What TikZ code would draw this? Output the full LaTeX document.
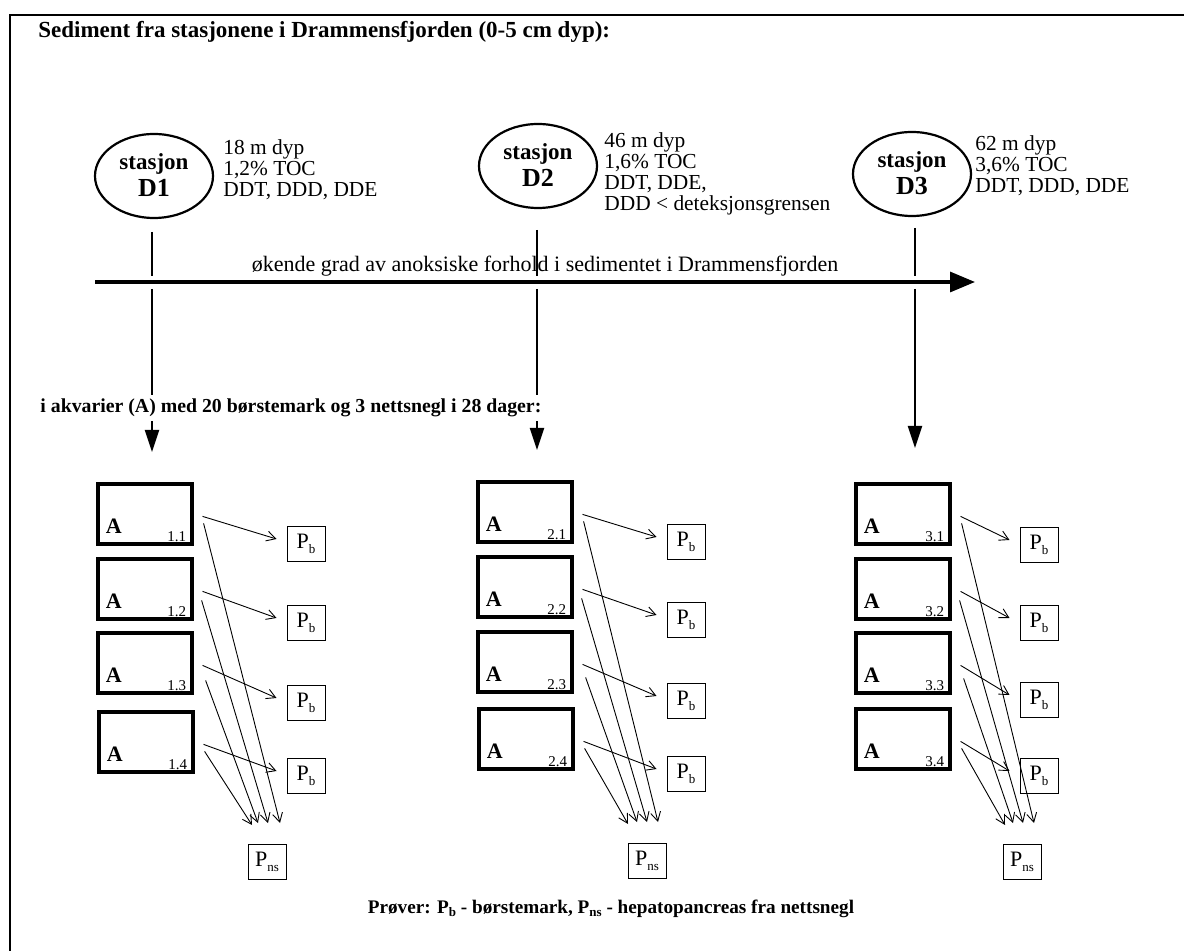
\documentclass[tikz,border=0pt]{standalone}
\usepackage{fontspec}
\setmainfont{Liberation Serif}
\usetikzlibrary{arrows.meta,calc,shapes.geometric}
\newcommand\lowsub[1]{\raisebox{-0.45ex}{\fontsize{6.5}{7}\selectfont #1}}
\newcommand\mkaq[3]{%
  \node[aq] (#1) at (#2) {};
  \node[aqA] (#1A) at ($(#1.south west)+(9,-12)$) {A};
  \node[aqN] (#1n) at ($(#1.south east)+(-7,-4)$) {#3};
}
\begin{document}
\begin{tikzpicture}[x=0.5pt,y=-0.5pt,
  stn/.style={ellipse,draw,line width=1.1pt,minimum width=59pt,minimum height=42pt,inner sep=0pt},
  stntxt/.style={anchor=base,inner sep=0pt,font=\fontsize{11.5}{13}\bfseries\selectfont},
  stnid/.style={anchor=base,inner sep=0pt,font=\fontsize{13}{15}\bfseries\selectfont},
  info/.style={anchor=base west,inner sep=0pt,font=\fontsize{10.7}{12}\selectfont},
  head/.style={anchor=base west,inner sep=0pt,font=\fontsize{11.5}{13}\bfseries\selectfont},
  aq/.style={draw,line width=1.6pt,minimum width=47pt,minimum height=30pt,inner sep=0pt},
  aqA/.style={anchor=base west,inner sep=0pt,font=\fontsize{11}{12}\bfseries\selectfont},
  aqN/.style={anchor=base east,inner sep=0pt,font=\fontsize{7.5}{9}\selectfont},
  pb/.style={draw,line width=0.5pt,minimum width=19pt,minimum height=17.5pt,inner sep=0pt,font=\fontsize{11}{12}\selectfont},
  feed/.style={line width=1pt},
  feedarrow/.style={line width=1pt,-{Triangle[length=11pt,width=7pt]}},
  samp/.style={line width=0.45pt,-{Straight Barb[length=4.5pt,width=5pt]}},
]
\useasboundingbox (0,0) rectangle (1184,951);
\draw[line width=1.2pt] (10,951) -- (10,15) -- (1184,15);

\node[head] (title) at (38,38) {Sediment fra stasjonene i Drammensfjorden (0-5 cm dyp):};

% stations
\node[stn] (D1) at (154,176) {};
\node[stntxt] (D1s) at (154,170) {stasjon};
\node[stnid] (D1n) at (154,197) {D1};
\node[info] (D1i1) at (223,155) {18 m dyp};
\node[info] (D1i2) at (223,176) {1,2\% TOC};
\node[info] (D1i3) at (223,197) {DDT, DDD, DDE};

\node[stn] (D2) at (538,166) {};
\node[stntxt] (D2s) at (538,160) {stasjon};
\node[stnid] (D2n) at (538,187) {D2};
\node[info] (D2i1) at (604,148) {46 m dyp};
\node[info] (D2i2) at (604,169) {1,6\% TOC};
\node[info] (D2i3) at (604,190) {DDT, DDE,};
\node[info] (D2i4) at (604,211) {DDD < deteksjonsgrensen};

\node[stn] (D3) at (912,174) {};
\node[stntxt] (D3s) at (912,168) {stasjon};
\node[stnid] (D3n) at (912,195) {D3};
\node[info] (D3i1) at (975,151) {62 m dyp};
\node[info] (D3i2) at (975,172) {3,6\% TOC};
\node[info] (D3i3) at (975,193) {DDT, DDD, DDE};

% gradient arrow
\coordinate (hs) at (95,282);
\coordinate (he) at (975,282);
\draw[line width=1.6pt,-{Triangle[length=12.5pt,width=10pt]}] (hs) -- (he);
\node[info,anchor=base,font=\fontsize{11}{12}\selectfont] (grad) at (545,272) {økende grad av anoksiske forhold i sedimentet i Drammensfjorden};

% vertical feeds
\coordinate (v1a) at (152,232); \coordinate (v1b) at (152,276);
\coordinate (v1c) at (152,289); \coordinate (v1d) at (152,452);
\coordinate (v2a) at (537,230); \coordinate (v2b) at (537,276);
\coordinate (v2c) at (537,289); \coordinate (v2d) at (537,450);
\coordinate (v3a) at (915,228); \coordinate (v3b) at (915,276);
\coordinate (v3c) at (915,289); \coordinate (v3d) at (915,448);
\draw[feed] (v1a) -- (v1b);
\draw[feedarrow] (v1c) -- (v1d);
\draw[feed] (v2a) -- (v2b);
\draw[feedarrow] (v2c) -- (v2d);
\draw[feed] (v3a) -- (v3b);
\draw[feedarrow] (v3c) -- (v3d);

\node[head,font=\fontsize{9.9}{12}\bfseries\selectfont,fill=white,inner sep=2pt] (aqtitle) at (36,413) {i akvarier (A) med 20 børstemark og 3 nettsnegl i 28 dager:};

% aquaria
\mkaq{b11}{145,514}{1.1}
\mkaq{b12}{145,589}{1.2}
\mkaq{b13}{145,663}{1.3}
\mkaq{b14}{146,742}{1.4}
\mkaq{b21}{525,512}{2.1}
\mkaq{b22}{525,587}{2.2}
\mkaq{b23}{525,662}{2.3}
\mkaq{b24}{526,739}{2.4}
\mkaq{b31}{903,514}{3.1}
\mkaq{b32}{903,589}{3.2}
\mkaq{b33}{903,663}{3.3}
\mkaq{b34}{903,739}{3.4}

% samples
\node[pb] (p11) at (306,544) {P\lowsub{b}};
\node[pb] (p12) at (306,623) {P\lowsub{b}};
\node[pb] (p13) at (306,703) {P\lowsub{b}};
\node[pb] (p14) at (306,776) {P\lowsub{b}};
\node[pb] (p21) at (686,542) {P\lowsub{b}};
\node[pb] (p22) at (686,620) {P\lowsub{b}};
\node[pb] (p23) at (686,701) {P\lowsub{b}};
\node[pb] (p24) at (686,774) {P\lowsub{b}};
\node[pb] (p31) at (1039,545) {P\lowsub{b}};
\node[pb] (p32) at (1039,623) {P\lowsub{b}};
\node[pb] (p33) at (1039,700) {P\lowsub{b}};
\node[pb] (p34) at (1039,776) {P\lowsub{b}};
\node[pb] (n1) at (267,862) {P\lowsub{ns}};
\node[pb] (n2) at (647,861) {P\lowsub{ns}};
\node[pb] (n3) at (1022,862) {P\lowsub{ns}};

% arrows to P_b
\foreach \c in {1,2,3}{
  \foreach \r in {1,2,3,4}{
    \draw[samp] ($(b\c\r.north east)+(9,34)$) -- ($(p\c\r.west)+(-10,-5)$);
  }
}
% arrows to P_ns
\draw[samp] ($(b11.north east)+(10,41)$) -- ($(n1.north)+(13,-21)$);
\draw[samp] ($(b12.north east)+(8,43)$) -- ($(n1.north)+(1,-21)$);
\draw[samp] ($(b13.north east)+(12,49)$) -- ($(n1.north)+(-9,-21)$);
\draw[samp] ($(b14.north east)+(10,41)$) -- ($(n1.north)+(-15,-19)$);
\draw[samp] ($(b21.north east)+(10,41)$) -- ($(n2.north)+(11,-21)$);
\draw[samp] ($(b22.north east)+(8,43)$) -- ($(n2.north)+(0,-21)$);
\draw[samp] ($(b23.north east)+(12,47)$) -- ($(n2.north)+(-10,-21)$);
\draw[samp] ($(b24.north east)+(10,41)$) -- ($(n2.north)+(-19,-19)$);
\draw[samp] ($(b31.north east)+(10,41)$) -- ($(n3.north)+(12,-21)$);
\draw[samp] ($(b32.north east)+(8,43)$) -- ($(n3.north)+(1,-21)$);
\draw[samp] ($(b33.north east)+(12,47)$) -- ($(n3.north)+(-9,-21)$);
\draw[samp] ($(b34.north east)+(10,41)$) -- ($(n3.north)+(-17,-19)$);

\node[head,anchor=base,font=\fontsize{9.6}{12}\bfseries\selectfont] (cap) at (611,913) {Prøver: P\lowsub{b} - børstemark, P\lowsub{ns} - hepatopancreas fra nettsnegl};
\end{tikzpicture}
\end{document}
